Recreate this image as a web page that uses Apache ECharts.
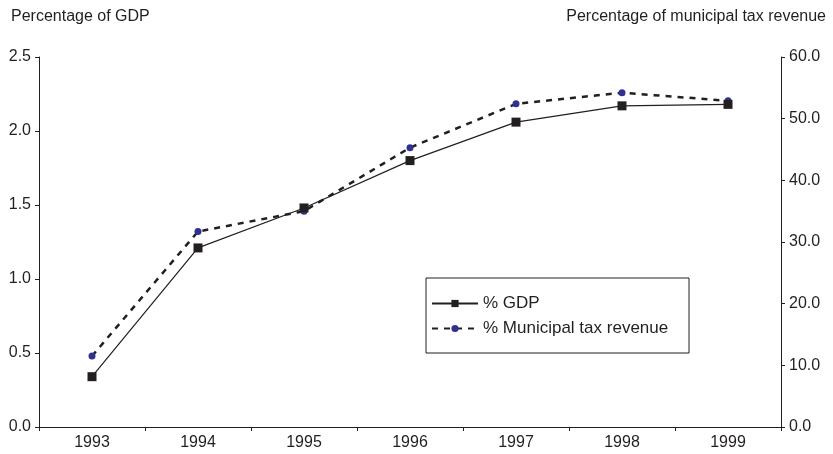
<!DOCTYPE html>
<html>
<head>
<meta charset="utf-8">
<script src="https://cdn.jsdelivr.net/npm/echarts@6/dist/echarts.min.js"></script>
<style>
  html, body { margin: 0; padding: 0; background: #fff; }
  #chart { width: 833px; height: 454px; }
</style>
</head>
<body>
<div id="chart"></div>
<script>
const years = ["1993", "1994", "1995", "1996", "1997", "1998", "1999"];
const gdpShare = [0.34, 1.21, 1.48, 1.80, 2.06, 2.17, 2.18];
const taxShare = [11.5, 31.7, 35.0, 45.3, 52.4, 54.2, 52.9];
const leftTicks = [0, 2.5, 0.5];   // min, max, step
const rightTicks = [0, 60, 10];

const FONT = "'Liberation Sans Narrow', 'Arial Narrow', 'Liberation Sans', sans-serif";
const TXT = "#231f20";

const chart = echarts.init(document.getElementById("chart"));

chart.setOption({
  animation: false,
  textStyle: { fontFamily: FONT, color: TXT },
  title: [
    { text: "Percentage of GDP", left: 6, top: 4,
      textStyle: { fontFamily: FONT, fontSize: 16, fontWeight: "normal", color: TXT } },
    { text: "Percentage of municipal tax revenue", right: 2, top: 4,
      textStyle: { fontFamily: FONT, fontSize: 16, fontWeight: "normal", color: TXT } }
  ],
  grid: { left: 39, right: 52, top: 57, bottom: 27 },
  graphic: [{
    type: "rect",
    shape: { x: 426, y: 278, width: 263, height: 75 },
    style: { fill: "#fff", stroke: "#231f20", lineWidth: 1 },
    z: 5
  }],
  legend: {
    orient: "vertical",
    left: 426,
    top: 290,
    itemWidth: 46,
    itemHeight: 9,
    itemGap: 8,
    z: 10,
    textStyle: { fontFamily: FONT, fontSize: 17, color: TXT },
    data: ["% GDP", "% Municipal tax revenue"]
  },
  xAxis: {
    type: "category",
    data: years,
    boundaryGap: true,
    axisLine: { lineStyle: { color: "#231f20", width: 1 } },
    axisTick: { show: true, length: 4, lineStyle: { color: "#231f20" } },
    axisLabel: { fontFamily: FONT, fontSize: 16, color: TXT, margin: 8 }
  },
  yAxis: [
    {
      type: "value",
      min: leftTicks[0], max: leftTicks[1], interval: leftTicks[2],
      position: "left",
      splitLine: { show: false },
      axisLine: { show: true, lineStyle: { color: "#231f20" } },
      axisTick: { show: true, length: 4, lineStyle: { color: "#231f20" } },
      axisLabel: { fontFamily: FONT, fontSize: 16, color: TXT, margin: 8,
        formatter: v => v.toFixed(1) }
    },
    {
      type: "value",
      min: rightTicks[0], max: rightTicks[1], interval: rightTicks[2],
      position: "right",
      splitLine: { show: false },
      axisLine: { show: true, lineStyle: { color: "#231f20" } },
      axisTick: { show: true, length: 4, lineStyle: { color: "#231f20" } },
      axisLabel: { fontFamily: FONT, fontSize: 16, color: TXT, margin: 8,
        formatter: v => v.toFixed(1) }
    }
  ],
  series: [
    {
      name: "% GDP",
      type: "line",
      yAxisIndex: 0,
      data: gdpShare,
      symbol: "rect",
      symbolSize: 9,
      itemStyle: { color: "#231f20" },
      lineStyle: { color: "#231f20", width: 1.2, type: "solid" },
      z: 3
    },
    {
      name: "% Municipal tax revenue",
      type: "line",
      yAxisIndex: 1,
      data: taxShare,
      symbol: "circle",
      symbolSize: 7,
      itemStyle: { color: "#2e3192" },
      lineStyle: { color: "#231f20", width: 2.5, type: [6, 6] },
      z: 2
    }
  ]
});
</script>
</body>
</html>
